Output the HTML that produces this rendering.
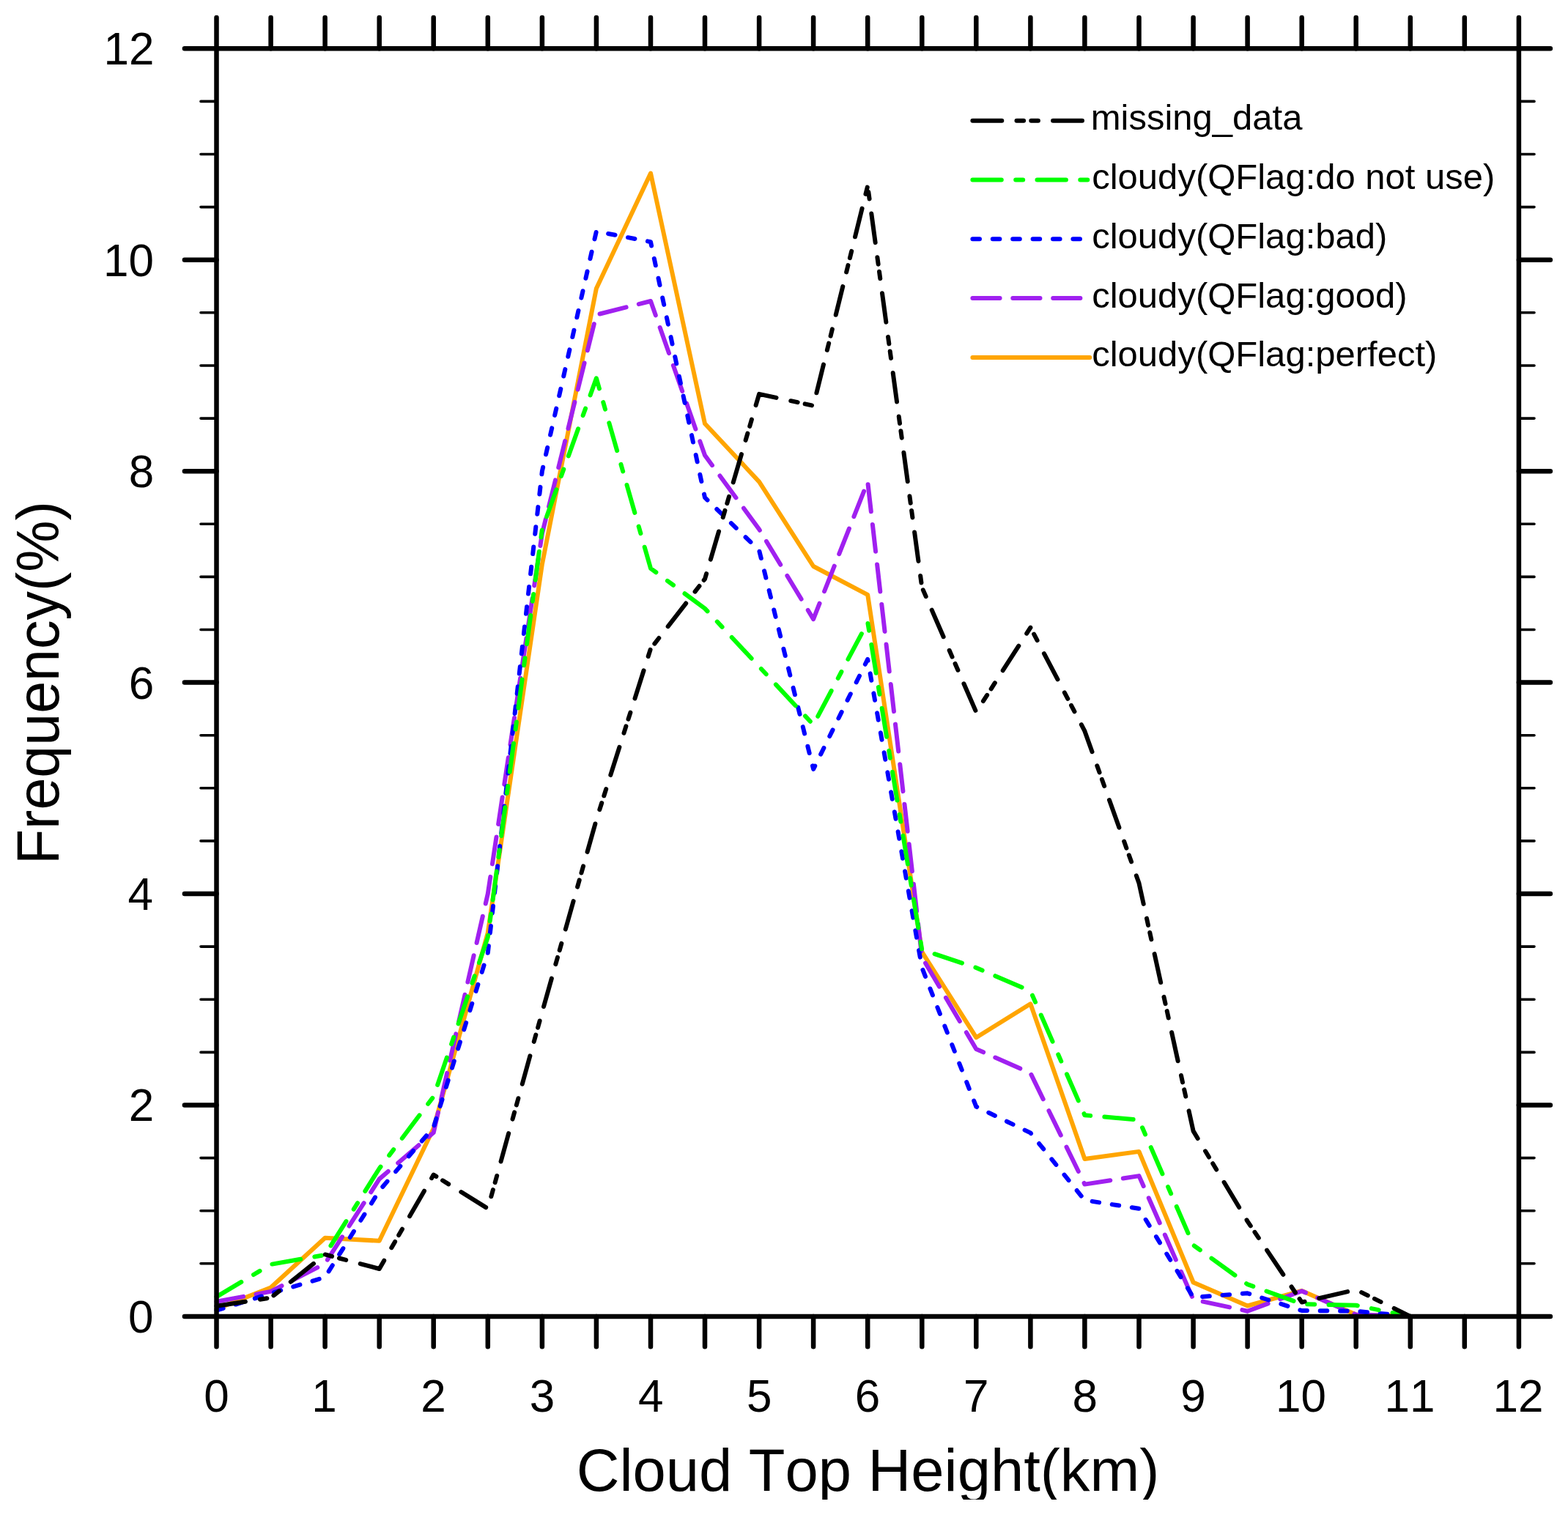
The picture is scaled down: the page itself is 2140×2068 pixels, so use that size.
<!DOCTYPE html><html><head><meta charset="utf-8"><title>Cloud Top Height</title>
<style>html,body{margin:0;padding:0;background:#fff;}body{width:2140px;height:2068px;overflow:hidden;}svg{display:block;}</style></head><body>
<svg width="2140" height="2068" viewBox="0 0 2140 2068">
<rect x="0" y="0" width="2140" height="2068" fill="#fff"/>
<defs><clipPath id="cl"><rect x="0" y="0" width="2140" height="2047"/></clipPath></defs>
<g clip-path="url(#cl)">
<polyline points="295.5,1786.7 369.6,1757.5 443.6,1689.7 517.7,1693.8 591.7,1540.2 665.8,1273.4 739.9,770.1 813.9,393.7 888.0,236.5 962.0,578.3 1036.1,657.6 1110.1,773.0 1184.2,811.9 1258.3,1299.4 1332.3,1416.2 1406.4,1370.3 1480.4,1582.0 1554.5,1571.9 1628.6,1750.5 1702.6,1782.5 1776.7,1762.0 1850.7,1794.4 1924.8,1796.9 1998.8,1796.9 2072.9,1796.9" fill="none" stroke="#ffa500" stroke-width="6.0" stroke-linecap="round" stroke-linejoin="round"/>
<polyline points="295.5,1776.7 369.6,1762.9 443.6,1724.8 517.7,1609.4 591.7,1546.0 665.8,1220.0 739.9,728.3 813.9,429.7 888.0,411.0 962.0,621.5 1036.1,722.5 1110.1,845.1 1184.2,657.6 1258.3,1306.6 1332.3,1432.0 1406.4,1464.8 1480.4,1616.6 1554.5,1605.1 1628.6,1773.8 1702.6,1789.7 1776.7,1762.3 1850.7,1794.4 1924.8,1796.9 1998.8,1796.9 2072.9,1796.9" fill="none" stroke="#a020f0" stroke-width="6.0" stroke-linecap="round" stroke-linejoin="round" stroke-dasharray="37.2 17.7"/>
<polyline points="295.5,1788.7 369.6,1765.5 443.6,1743.5 517.7,1625.3 591.7,1538.8 665.8,1300.8 739.9,643.2 813.9,315.8 888.0,330.2 962.0,679.2 1036.1,751.3 1110.1,1049.9 1184.2,899.9 1258.3,1321.0 1332.3,1510.6 1406.4,1546.4 1480.4,1638.3 1554.5,1649.8 1628.6,1770.9 1702.6,1765.3 1776.7,1789.0 1850.7,1789.7 1924.8,1796.9 1998.8,1796.9 2072.9,1796.9" fill="none" stroke="#0000ff" stroke-width="6.0" stroke-linecap="round" stroke-linejoin="round" stroke-dasharray="9.6 17.8"/>
<polyline points="295.5,1770.1 369.6,1725.9 443.6,1713.0 517.7,1595.0 591.7,1496.9 665.8,1279.2 739.9,722.5 813.9,516.3 888.0,775.8 962.0,830.6 1036.1,910.0 1110.1,989.3 1184.2,849.4 1258.3,1296.5 1332.3,1321.0 1406.4,1352.7 1480.4,1522.2 1554.5,1528.7 1628.6,1699.6 1702.6,1753.1 1776.7,1780.0 1850.7,1781.8 1924.8,1796.9 1998.8,1796.9 2072.9,1796.9" fill="none" stroke="#00ff00" stroke-width="6.0" stroke-linecap="round" stroke-linejoin="round" stroke-dasharray="39.4 19.4 10 19.3"/>
<polyline points="295.5,1782.8 369.6,1771.4 443.6,1712.4 517.7,1732.0 591.7,1603.6 665.8,1649.8 739.9,1381.6 813.9,1119.1 888.0,885.5 962.0,790.3 1036.1,537.9 1110.1,553.8 1184.2,253.8 1258.3,801.8 1332.3,972.0 1406.4,856.6 1480.4,997.9 1554.5,1205.6 1628.6,1543.9 1702.6,1667.1 1776.7,1777.6 1850.7,1760.4 1924.8,1796.9 1998.8,1796.9 2072.9,1796.9" fill="none" stroke="#000000" stroke-width="6.0" stroke-linecap="round" stroke-linejoin="round" stroke-dasharray="39.9 20.2 9.6 10.2 9.6 20.2"/>
<g stroke="#000" stroke-width="6.5" stroke-linecap="round" fill="none">
<path d="M295.5 66.3H2072.9V1796.9H295.5Z"/>
<path d="M295.5 1796.9V1838.3M295.5 66.3V24.0"/>
<path d="M369.6 1796.9V1838.3M369.6 66.3V24.0"/>
<path d="M443.6 1796.9V1838.3M443.6 66.3V24.0"/>
<path d="M517.7 1796.9V1838.3M517.7 66.3V24.0"/>
<path d="M591.7 1796.9V1838.3M591.7 66.3V24.0"/>
<path d="M665.8 1796.9V1838.3M665.8 66.3V24.0"/>
<path d="M739.9 1796.9V1838.3M739.9 66.3V24.0"/>
<path d="M813.9 1796.9V1838.3M813.9 66.3V24.0"/>
<path d="M888.0 1796.9V1838.3M888.0 66.3V24.0"/>
<path d="M962.0 1796.9V1838.3M962.0 66.3V24.0"/>
<path d="M1036.1 1796.9V1838.3M1036.1 66.3V24.0"/>
<path d="M1110.1 1796.9V1838.3M1110.1 66.3V24.0"/>
<path d="M1184.2 1796.9V1838.3M1184.2 66.3V24.0"/>
<path d="M1258.3 1796.9V1838.3M1258.3 66.3V24.0"/>
<path d="M1332.3 1796.9V1838.3M1332.3 66.3V24.0"/>
<path d="M1406.4 1796.9V1838.3M1406.4 66.3V24.0"/>
<path d="M1480.4 1796.9V1838.3M1480.4 66.3V24.0"/>
<path d="M1554.5 1796.9V1838.3M1554.5 66.3V24.0"/>
<path d="M1628.6 1796.9V1838.3M1628.6 66.3V24.0"/>
<path d="M1702.6 1796.9V1838.3M1702.6 66.3V24.0"/>
<path d="M1776.7 1796.9V1838.3M1776.7 66.3V24.0"/>
<path d="M1850.7 1796.9V1838.3M1850.7 66.3V24.0"/>
<path d="M1924.8 1796.9V1838.3M1924.8 66.3V24.0"/>
<path d="M1998.8 1796.9V1838.3M1998.8 66.3V24.0"/>
<path d="M2072.9 1796.9V1838.3M2072.9 66.3V24.0"/>
<path d="M295.5 1796.9H251.9M2072.9 1796.9H2115.9"/>
<path d="M295.5 1508.5H251.9M2072.9 1508.5H2115.9"/>
<path d="M295.5 1220.0H251.9M2072.9 1220.0H2115.9"/>
<path d="M295.5 931.6H251.9M2072.9 931.6H2115.9"/>
<path d="M295.5 643.2H251.9M2072.9 643.2H2115.9"/>
<path d="M295.5 354.7H251.9M2072.9 354.7H2115.9"/>
<path d="M295.5 66.3H251.9M2072.9 66.3H2115.9"/>
</g>
<g stroke="#000" stroke-width="3.6" stroke-linecap="round" fill="none">
<path d="M295.5 1724.8H274.0M2072.9 1724.8H2094.0"/>
<path d="M295.5 1652.7H274.0M2072.9 1652.7H2094.0"/>
<path d="M295.5 1580.6H274.0M2072.9 1580.6H2094.0"/>
<path d="M295.5 1436.4H274.0M2072.9 1436.4H2094.0"/>
<path d="M295.5 1364.2H274.0M2072.9 1364.2H2094.0"/>
<path d="M295.5 1292.1H274.0M2072.9 1292.1H2094.0"/>
<path d="M295.5 1147.9H274.0M2072.9 1147.9H2094.0"/>
<path d="M295.5 1075.8H274.0M2072.9 1075.8H2094.0"/>
<path d="M295.5 1003.7H274.0M2072.9 1003.7H2094.0"/>
<path d="M295.5 859.5H274.0M2072.9 859.5H2094.0"/>
<path d="M295.5 787.4H274.0M2072.9 787.4H2094.0"/>
<path d="M295.5 715.3H274.0M2072.9 715.3H2094.0"/>
<path d="M295.5 571.1H274.0M2072.9 571.1H2094.0"/>
<path d="M295.5 499.0H274.0M2072.9 499.0H2094.0"/>
<path d="M295.5 426.8H274.0M2072.9 426.8H2094.0"/>
<path d="M295.5 282.6H274.0M2072.9 282.6H2094.0"/>
<path d="M295.5 210.5H274.0M2072.9 210.5H2094.0"/>
<path d="M295.5 138.4H274.0M2072.9 138.4H2094.0"/>
</g>
<g style="font-family:'Liberation Sans',Arial,Helvetica,sans-serif;font-kerning:none" font-size="62.0" fill="#000">
<text transform="translate(175.06 1818.90) scale(1 1.02)">0</text>
<text transform="translate(175.68 1530.47) scale(1 1.02)">2</text>
<text transform="translate(174.44 1242.03) scale(1 1.02)">4</text>
<text transform="translate(175.68 953.60) scale(1 1.02)">6</text>
<text transform="translate(175.68 665.17) scale(1 1.02)">8</text>
<text transform="translate(140.96 376.73) scale(1 1.02)">10</text>
<text transform="translate(141.58 88.30) scale(1 1.02)">12</text>
<text transform="translate(278.14 1926.5) scale(1 1.02)">0</text>
<text transform="translate(425.33 1926.5) scale(1 1.02)">1</text>
<text transform="translate(574.37 1926.5) scale(1 1.02)">2</text>
<text transform="translate(722.80 1926.5) scale(1 1.02)">3</text>
<text transform="translate(870.92 1926.5) scale(1 1.02)">4</text>
<text transform="translate(1019.03 1926.5) scale(1 1.02)">5</text>
<text transform="translate(1166.84 1926.5) scale(1 1.02)">6</text>
<text transform="translate(1314.96 1926.5) scale(1 1.02)">7</text>
<text transform="translate(1463.38 1926.5) scale(1 1.02)">8</text>
<text transform="translate(1611.19 1926.5) scale(1 1.02)">9</text>
<text transform="translate(1741.02 1926.5) scale(1 1.02)">10</text>
<text transform="translate(1889.44 1926.5) scale(1 1.02)">11</text>
<text transform="translate(2037.56 1926.5) scale(1 1.02)">12</text>
</g>
<text transform="translate(786.73 2034.8) scale(0.8134 0.8110)" style="font-family:'Liberation Sans',Arial,Helvetica,sans-serif;font-kerning:none" font-size="100">Cloud Top Height(km)</text>
<text transform="translate(80.09 1180.12) rotate(-90) scale(0.7899 0.8245)" style="font-family:'Liberation Sans',Arial,Helvetica,sans-serif;font-kerning:none" font-size="100">Frequency(%)</text>
<path d="M1327.4 164.7H1487.3" fill="none" stroke="#000000" stroke-width="6.0" stroke-linecap="round" stroke-dasharray="39.9 20.2 9.6 10.2 9.6 20.2"/>
<text x="1488.77" y="177.2" style="font-family:'Liberation Sans',Arial,Helvetica,sans-serif;font-kerning:none" font-size="49.0" fill="#000">missing_data</text>
<path d="M1327.4 245.5H1487.3" fill="none" stroke="#00ff00" stroke-width="6.0" stroke-linecap="round" stroke-dasharray="39.4 19.4 10 19.3"/>
<text x="1490.24" y="258.0" style="font-family:'Liberation Sans',Arial,Helvetica,sans-serif;font-kerning:none" font-size="49.0" fill="#000">cloudy(QFlag:do not use)</text>
<path d="M1327.4 326.3H1487.3" fill="none" stroke="#0000ff" stroke-width="6.0" stroke-linecap="round" stroke-dasharray="9.6 17.8"/>
<text x="1490.24" y="338.8" style="font-family:'Liberation Sans',Arial,Helvetica,sans-serif;font-kerning:none" font-size="49.0" fill="#000">cloudy(QFlag:bad)</text>
<path d="M1327.4 407.1H1487.3" fill="none" stroke="#a020f0" stroke-width="6.0" stroke-linecap="round" stroke-dasharray="37.2 17.7"/>
<text x="1490.24" y="419.6" style="font-family:'Liberation Sans',Arial,Helvetica,sans-serif;font-kerning:none" font-size="49.0" fill="#000">cloudy(QFlag:good)</text>
<path d="M1327.4 487.9H1487.3" fill="none" stroke="#ffa500" stroke-width="6.0" stroke-linecap="round"/>
<text x="1490.24" y="500.4" style="font-family:'Liberation Sans',Arial,Helvetica,sans-serif;font-kerning:none" font-size="49.0" fill="#000">cloudy(QFlag:perfect)</text>
</g></svg></body></html>
